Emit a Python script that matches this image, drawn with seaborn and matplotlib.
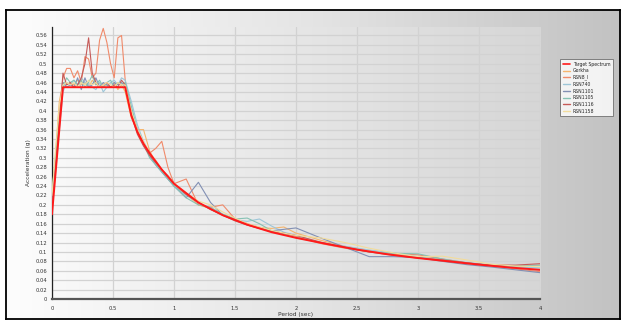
import matplotlib
matplotlib.use("Agg")
import matplotlib.pyplot as plt
import numpy as np
import pandas as pd
import seaborn as sns
from matplotlib.lines import Line2D
from matplotlib.ticker import FuncFormatter, MultipleLocator

# target spectrum
target_periods = [0, 0.09, 0.6, 0.65, 0.7, 0.75, 0.8, 0.9, 1.0, 1.1, 1.2, 1.4, 1.6, 1.8,
                  2.0, 2.25, 2.5, 2.75, 3.0, 3.25, 3.5, 3.75, 4.0]
target_sa = [0.18, 0.45, 0.45, 0.39, 0.355, 0.33, 0.31, 0.275, 0.245, 0.225, 0.205, 0.178,
             0.158, 0.142, 0.13, 0.117, 0.105, 0.095, 0.087, 0.08, 0.073, 0.067, 0.062]

# records, all sampled at the same periods
periods = [0, 0.03, 0.06, 0.09, 0.12, 0.15, 0.18, 0.21, 0.24, 0.27, 0.3, 0.33, 0.36, 0.39,
           0.42, 0.45, 0.48, 0.51, 0.54, 0.57, 0.6, 0.65, 0.7, 0.75, 0.8, 0.85, 0.9, 0.95,
           1.0, 1.1, 1.2, 1.3, 1.4, 1.5, 1.6, 1.7, 1.8, 1.9, 2.0, 2.2, 2.4, 2.6, 2.8, 3.0,
           3.2, 3.4, 3.6, 3.8, 4.0]

gorkha = [0.22, 0.31, 0.42, 0.46, 0.455, 0.46, 0.455, 0.465, 0.455, 0.46, 0.45, 0.465, 0.455,
          0.46, 0.45, 0.455, 0.45, 0.46, 0.445, 0.455, 0.44, 0.385, 0.36, 0.36, 0.315, 0.29,
          0.272, 0.26, 0.24, 0.222, 0.2, 0.192, 0.18, 0.17, 0.16, 0.152, 0.15, 0.153, 0.14,
          0.125, 0.112, 0.103, 0.095, 0.09, 0.083, 0.075, 0.072, 0.071, 0.07]
rsn8 = [0.21, 0.3, 0.4, 0.47, 0.49, 0.49, 0.47, 0.485, 0.46, 0.515, 0.51, 0.47, 0.48, 0.55,
        0.575, 0.545, 0.5, 0.47, 0.555, 0.56, 0.465, 0.4, 0.36, 0.33, 0.31, 0.32, 0.335, 0.28,
        0.245, 0.255, 0.2, 0.195, 0.2, 0.17, 0.16, 0.152, 0.145, 0.14, 0.133, 0.118, 0.108,
        0.1, 0.097, 0.094, 0.085, 0.077, 0.07, 0.064, 0.058]
rsn740 = [0.2, 0.27, 0.36, 0.44, 0.46, 0.455, 0.465, 0.455, 0.47, 0.46, 0.455, 0.45, 0.445,
          0.46, 0.44, 0.45, 0.46, 0.465, 0.455, 0.47, 0.465, 0.42, 0.37, 0.335, 0.31, 0.29,
          0.27, 0.255, 0.24, 0.22, 0.205, 0.19, 0.18, 0.168, 0.165, 0.17, 0.155, 0.142, 0.135,
          0.12, 0.112, 0.104, 0.098, 0.09, 0.082, 0.076, 0.071, 0.068, 0.066]
rsn1101 = [0.21, 0.29, 0.38, 0.46, 0.45, 0.455, 0.45, 0.47, 0.445, 0.47, 0.45, 0.455, 0.47,
           0.45, 0.46, 0.455, 0.45, 0.46, 0.455, 0.46, 0.45, 0.395, 0.355, 0.33, 0.305, 0.285,
           0.27, 0.255, 0.24, 0.215, 0.248, 0.205, 0.178, 0.168, 0.158, 0.15, 0.145, 0.148,
           0.151, 0.13, 0.11, 0.09, 0.09, 0.088, 0.08, 0.073, 0.068, 0.062, 0.056]
rsn1105 = [0.23, 0.3, 0.39, 0.45, 0.47, 0.46, 0.465, 0.455, 0.465, 0.45, 0.46, 0.475, 0.455,
           0.465, 0.45, 0.46, 0.465, 0.45, 0.46, 0.455, 0.46, 0.41, 0.36, 0.33, 0.3, 0.285,
           0.27, 0.255, 0.24, 0.215, 0.2, 0.195, 0.18, 0.17, 0.172, 0.16, 0.145, 0.138, 0.13,
           0.12, 0.11, 0.1, 0.097, 0.096, 0.085, 0.077, 0.072, 0.07, 0.072]
rsn1116 = [0.19, 0.28, 0.38, 0.48, 0.455, 0.46, 0.45, 0.455, 0.47, 0.5, 0.555, 0.48, 0.46,
           0.45, 0.455, 0.46, 0.45, 0.455, 0.45, 0.465, 0.455, 0.39, 0.35, 0.325, 0.305, 0.29,
           0.275, 0.262, 0.245, 0.222, 0.205, 0.19, 0.178, 0.166, 0.157, 0.15, 0.143, 0.14,
           0.135, 0.121, 0.11, 0.1, 0.093, 0.087, 0.083, 0.077, 0.072, 0.072, 0.075]
rsn1158 = [0.22, 0.32, 0.41, 0.455, 0.46, 0.455, 0.46, 0.45, 0.46, 0.455, 0.465, 0.455, 0.46,
           0.45, 0.455, 0.46, 0.455, 0.45, 0.46, 0.455, 0.455, 0.4, 0.36, 0.335, 0.31, 0.295,
           0.275, 0.26, 0.245, 0.225, 0.208, 0.2, 0.185, 0.172, 0.16, 0.153, 0.146, 0.14, 0.135,
           0.13, 0.12, 0.108, 0.098, 0.09, 0.091, 0.083, 0.074, 0.07, 0.069]

record_names = ["Gorkha", "RSN8_I", "RSN740", "RSN1101", "RSN1105", "RSN1116", "RSN1158"]
record_values = [gorkha, rsn8, rsn740, rsn1101, rsn1105, rsn1116, rsn1158]
record_colors = ["#f5b56e", "#f08a6a", "#9dc6d8", "#8290b4", "#86c2b4", "#c65a58", "#f2dc9c"]

df = pd.concat(
    [pd.DataFrame({"period": periods, "sa": vals, "record": name})
     for name, vals in zip(record_names, record_values)],
    ignore_index=True)
target_df = pd.DataFrame({"period": target_periods, "sa": target_sa})

sns.set_style("white")
plt.rcParams['font.family'] = ['DejaVu Sans']

W, H = 625, 325
fig = plt.figure(figsize=(W / 100, H / 100), dpi=100)
fig.patch.set_facecolor("white")

# outer panel with horizontal gradient and black frame
bg = fig.add_axes([6 / W, 1 - 319 / H, 614 / W, 309 / H])
grad = np.linspace(0, 1, 256).reshape(1, -1)
bg.imshow(grad, aspect="auto", cmap=matplotlib.colors.LinearSegmentedColormap.from_list(
    "panel", ["#fdfdfd", "#e4e4e4", "#c2c2c2"]), extent=[0, 1, 0, 1])
bg.set_xticks([]); bg.set_yticks([])
for s in bg.spines.values():
    s.set_color("black"); s.set_linewidth(1.3)

x0, x1, y0, y1 = 52, 540, 27, 299
ax = fig.add_axes([x0 / W, 1 - y1 / H, (x1 - x0) / W, (y1 - y0) / H])
ax.set_facecolor("none")
# plot-area gradient
ax.imshow(grad, aspect="auto", cmap=matplotlib.colors.LinearSegmentedColormap.from_list(
    "plot", ["#f9f9f9", "#e6e6e6", "#d6d6d6"]), extent=[0, 4, 0, 0.578], zorder=0)

sns.lineplot(data=df, x="period", y="sa", hue="record", palette=record_colors,
             hue_order=record_names, estimator=None, sort=False, linewidth=0.8,
             legend=False, ax=ax, zorder=3)
sns.lineplot(data=target_df, x="period", y="sa", color="#ff1a1a", linewidth=1.4,
             estimator=None, sort=False, ax=ax, zorder=4)

ax.set_xlim(0, 4)
ax.set_ylim(0, 0.578)
ax.xaxis.set_major_locator(MultipleLocator(0.5))
ax.xaxis.set_minor_locator(MultipleLocator(0.125))
ax.yaxis.set_major_locator(MultipleLocator(0.02))
fmt = FuncFormatter(lambda v, p: f"{round(v, 2):g}")
ax.xaxis.set_major_formatter(fmt)
ax.yaxis.set_major_formatter(fmt)
ax.grid(True, which="major", color="#d2d2d2", linewidth=0.9, zorder=1)
ax.set_axisbelow(True)
ax.tick_params(axis="both", which="major", labelsize=3.8, length=2, width=0.6,
               colors="#333333", pad=1.5)
ax.tick_params(axis="x", which="minor", length=1.5, width=0.5, colors="#555555")
ax.tick_params(axis="x", which="major", pad=3)
for side in ("top", "right"):
    ax.spines[side].set_visible(False)
ax.spines["left"].set_color("#222222"); ax.spines["left"].set_linewidth(0.9)
ax.spines["bottom"].set_color("#555555"); ax.spines["bottom"].set_linewidth(1.6)
ax.set_xlabel("Period (sec)", fontsize=4.2, color="#333333", labelpad=1)
ax.set_ylabel("Acceleration (g)", fontsize=4.2, color="#333333", labelpad=3)

handles = [Line2D([], [], color="#ff1a1a", lw=1.2)] + \
          [Line2D([], [], color=c, lw=1.0) for c in record_colors]
labels = ["Target Spectrum"] + record_names
leg = fig.legend(handles, labels, loc="upper left", bbox_to_anchor=(558 / W, 1 - 57 / H),
                 fontsize=3.3, frameon=True, fancybox=False, handlelength=1.6,
                 handletextpad=0.6, borderpad=0.5, labelspacing=0.35)
leg.get_frame().set_edgecolor("#666666")
leg.get_frame().set_linewidth(0.7)
leg.get_frame().set_facecolor("white")

fig.savefig("out.png", dpi=100)
